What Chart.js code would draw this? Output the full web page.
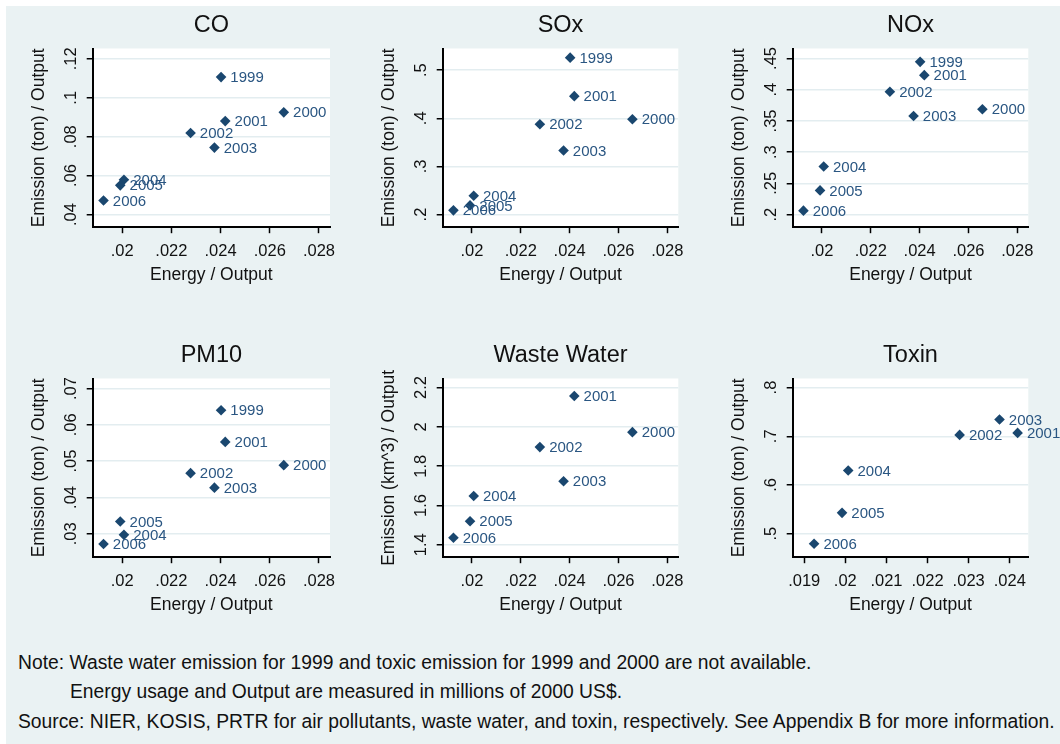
<!DOCTYPE html>
<html>
<head>
<meta charset="utf-8">
<script src="https://cdn.jsdelivr.net/npm/chart.js@4.4.1/dist/chart.umd.min.js"></script>
<style>
  html, body { margin: 0; padding: 0; background: #ffffff; width: 1060px; height: 744px; overflow: hidden; }
  #fig { position: absolute; left: 6px; top: 6px; width: 1054px; height: 738px; background: #eaf2f3; }
  canvas { position: absolute; }
  .note { position: absolute; font-family: "Liberation Sans", Arial, sans-serif; font-size: 19.3px; color: #111; white-space: nowrap; line-height: 22px; }
</style>
</head>
<body>
<div id="fig"></div>
<div class="note" style="left:18px; top:652px;">Note: Waste water emission for 1999 and toxic emission for 1999 and 2000 are not available.</div>
<div class="note" style="left:70px; top:681px;">Energy usage and Output are measured in millions of 2000 US$.</div>
<div class="note" style="left:18px; top:711px;">Source: NIER, KOSIS, PRTR for air pollutants, waste water, and toxin, respectively. See Appendix B for more information.</div>
<script>
// ---------------- data ----------------
const years = ['1999', '2000', '2001', '2002', '2003', '2004', '2005', '2006'];
const energyOutput = [0.02402, 0.02657, 0.02419, 0.02278, 0.02375, 0.02007, 0.01992, 0.01924];

const coValues    = [0.1106, 0.0925, 0.0880, 0.0819, 0.0744, 0.0579, 0.0550, 0.0472];
const soxValues   = [0.526, 0.398, 0.446, 0.3876, 0.333, 0.239, 0.219, 0.2087];
const noxValues   = [0.4446, 0.3686, 0.4233, 0.3967, 0.3579, 0.277, 0.2387, 0.2063];
const pm10Values  = [0.0640, 0.0489, 0.0553, 0.0467, 0.0427, 0.0297, 0.0334, 0.0272];
const wasteValues = [null, 1.973, 2.157, 1.897, 1.723, 1.648, 1.520, 1.436];
const toxinValues = [null, null, 0.7069, 0.7028, 0.7345, 0.6297, 0.5428, 0.4793];

const xTicksMain  = [0.02, 0.022, 0.024, 0.026, 0.028];
const xTicksToxin = [0.019, 0.02, 0.021, 0.022, 0.023, 0.024];
const coTicks     = [0.04, 0.06, 0.08, 0.1, 0.12];
const soxTicks    = [0.2, 0.3, 0.4, 0.5];
const noxTicks    = [0.2, 0.25, 0.3, 0.35, 0.4, 0.45];
const pm10Ticks   = [0.03, 0.04, 0.05, 0.06, 0.07];
const wasteTicks  = [1.4, 1.6, 1.8, 2, 2.2];
const toxinTicks  = [0.5, 0.6, 0.7, 0.8];

const panelTitles = ['CO', 'SOx', 'NOx', 'PM10', 'Waste Water', 'Toxin'];
const yTitleTon = 'Emission (ton) / Output';
const yTitleWater = 'Emission (km^3) / Output';
const xTitle = 'Energy / Output';

// ---------------- style ----------------
const FAM = "'Liberation Sans', Arial, sans-serif";
const NAVY = '#1a476f';
const LABEL_COLOR = '#2a5682';
const GRID = '#e3edf0';
const TICK_SIZE = 16.5;
const TICK_LEN = 6;

const fmt = v => String(+(+v).toPrecision(6)).replace(/^0\./, '.');

const mctx = document.createElement('canvas').getContext('2d');
mctx.font = TICK_SIZE + 'px ' + FAM;

const bgPlugin = {
  id: 'plotBg',
  beforeDraw(chart) {
    const a = chart.chartArea, ctx = chart.ctx;
    ctx.save();
    ctx.fillStyle = '#ffffff';
    ctx.fillRect(a.left, a.top, a.right - a.left, a.bottom - a.top);
    ctx.restore();
  }
};

const labelPlugin = {
  id: 'pointLabels',
  afterDatasetsDraw(chart) {
    const ctx = chart.ctx;
    const ds = chart.data.datasets[0];
    const meta = chart.getDatasetMeta(0);
    ctx.save();
    ctx.font = '15px ' + FAM;
    ctx.fillStyle = LABEL_COLOR;
    ctx.textAlign = 'left';
    ctx.textBaseline = 'middle';
    meta.data.forEach((pt, i) => {
      ctx.fillText(ds.data[i].label, pt.x + 9.3, pt.y + 1);
    });
    ctx.restore();
  }
};

const panels = [
  { title: panelTitles[0], values: coValues,    yTicks: coTicks,    yMin: 0.0335, yMax: 0.1253, xTicks: xTicksMain,  xMin: 0.0188,  xMax: 0.02845, yTitle: yTitleTon,   col: 0, row: 0 },
  { title: panelTitles[1], values: soxValues,   yTicks: soxTicks,   yMin: 0.1737, yMax: 0.545,  xTicks: xTicksMain,  xMin: 0.0188,  xMax: 0.02845, yTitle: yTitleTon,   col: 1, row: 0 },
  { title: panelTitles[2], values: noxValues,   yTicks: noxTicks,   yMin: 0.1798, yMax: 0.466,  xTicks: xTicksMain,  xMin: 0.0188,  xMax: 0.02845, yTitle: yTitleTon,   col: 2, row: 0 },
  { title: panelTitles[3], values: pm10Values,  yTicks: pm10Ticks,  yMin: 0.02355, yMax: 0.07276, xTicks: xTicksMain, xMin: 0.0188, xMax: 0.02845, yTitle: yTitleTon,   col: 0, row: 1 },
  { title: panelTitles[4], values: wasteValues, yTicks: wasteTicks, yMin: 1.337,  yMax: 2.246,  xTicks: xTicksMain,  xMin: 0.0188,  xMax: 0.02845, yTitle: yTitleWater, col: 1, row: 1 },
  { title: panelTitles[5], values: toxinValues, yTicks: toxinTicks, yMin: 0.4517, yMax: 0.8186, xTicks: xTicksToxin, xMin: 0.01872, xMax: 0.02445, yTitle: yTitleTon,   col: 2, row: 1 }
];

function makeChart(p) {
  const canvas = document.createElement('canvas');
  canvas.width = 360;
  canvas.height = 300;
  canvas.style.left = (p.col * 350) + 'px';
  canvas.style.top = (p.row * 330) + 'px';
  document.body.appendChild(canvas);

  const pts = [];
  p.values.forEach((v, i) => {
    if (v !== null) pts.push({ x: energyOutput[i], y: v, label: years[i] });
  });

  const widest = Math.max(...p.yTicks.map(v => mctx.measureText(fmt(v)).width));
  const yPad = Math.max(0, 21.5 - TICK_LEN - widest / 2);
  const padRight = p.col === 0 ? 30 : 31.7;

  new Chart(canvas, {
    type: 'scatter',
    data: {
      datasets: [{
        data: pts,
        pointStyle: 'rectRot',
        pointRadius: 5.3,
        pointHoverRadius: 5.3,
        backgroundColor: NAVY,
        borderColor: NAVY,
        borderWidth: 0
      }]
    },
    options: {
      responsive: false,
      animation: false,
      events: [],
      layout: { padding: { left: 0, top: 0, right: padRight, bottom: 0 } },
      plugins: {
        legend: { display: false },
        tooltip: { enabled: false },
        title: {
          display: true, text: p.title, fullSize: false, color: '#111',
          font: { family: FAM, size: 23.5, weight: 'normal' },
          padding: { top: 11.2, bottom: 9.1 }
        }
      },
      scales: {
        x: {
          type: 'linear', position: 'bottom', min: p.xMin, max: p.xMax,
          afterBuildTicks: s => { s.ticks = p.xTicks.map(v => ({ value: v })); },
          afterFit: s => { s.height = 72.8; },
          ticks: { callback: v => fmt(v), font: { family: FAM, size: TICK_SIZE }, color: '#111', padding: 8, maxRotation: 0, minRotation: 0, autoSkip: false },
          grid: { drawOnChartArea: false, drawTicks: true, tickLength: TICK_LEN, tickColor: '#000', tickWidth: 1.5 },
          border: { display: true, color: '#000', width: 2 },
          title: { display: true, text: xTitle, color: '#111', font: { family: FAM, size: 17.5 }, padding: { top: 0, bottom: 14 } }
        },
        y: {
          type: 'linear', position: 'left', min: p.yMin, max: p.yMax,
          afterBuildTicks: s => { s.ticks = p.yTicks.map(v => ({ value: v })); },
          afterFit: s => { s.width = 92.7; },
          ticks: { callback: v => fmt(v), font: { family: FAM, size: TICK_SIZE }, color: '#111', padding: yPad, minRotation: 90, maxRotation: 90, crossAlign: 'center', autoSkip: false },
          grid: { drawOnChartArea: true, color: GRID, lineWidth: 1.5, drawTicks: true, tickLength: TICK_LEN, tickColor: '#000', tickWidth: 1.5 },
          border: { display: true, color: '#000', width: 2 },
          title: { display: true, text: p.yTitle, color: '#111', font: { family: FAM, size: 17.5 }, padding: { top: 28.8, bottom: 0 } }
        }
      }
    },
    plugins: [bgPlugin, labelPlugin]
  });
}

panels.forEach(makeChart);
</script>
</body>
</html>
